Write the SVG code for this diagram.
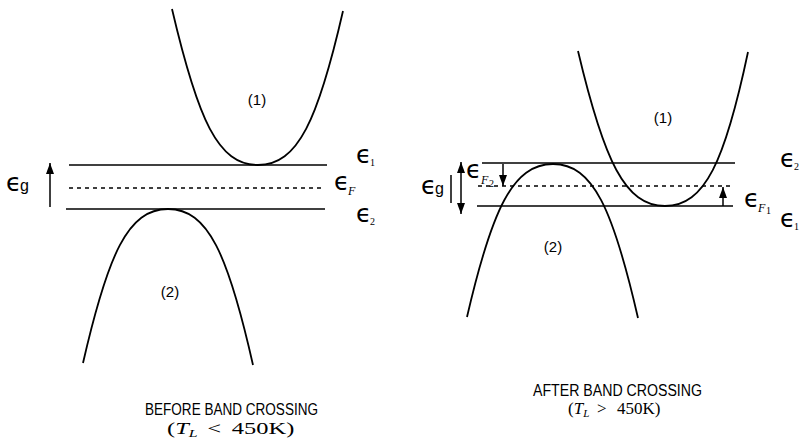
<svg xmlns="http://www.w3.org/2000/svg" width="803" height="441" viewBox="0 0 803 441">
<defs>
<marker id="ah" markerWidth="11" markerHeight="8" refX="11" refY="4" orient="auto-start-reverse" markerUnits="userSpaceOnUse"><path d="M0,0 L11,4 L0,8 z" fill="#000"/></marker>
<style>
.lvl{stroke:#000;stroke-width:1.6;fill:none}
.dash{stroke:#000;stroke-width:1.3;stroke-dasharray:4 4;fill:none}
.band{stroke:#000;stroke-width:1.8;fill:none}
.arr{stroke:#000;stroke-width:1.5;fill:none}
.eps{font-family:"DejaVu Sans",sans-serif;font-size:25px;fill:#000}
.sub{font-family:"Liberation Serif",serif;font-size:10px;fill:#000}
.subi{font-family:"Liberation Serif",serif;font-size:12px;font-style:italic;fill:#000}
.g{font-family:"Liberation Sans",sans-serif;font-size:16px;fill:#000}
.lab{font-family:"Liberation Sans",sans-serif;font-size:15px;fill:#000;text-anchor:middle}
.cap{font-family:"Liberation Sans",sans-serif;font-size:16px;fill:#000}
.math{font-family:"Liberation Serif",serif;font-size:17px;fill:#000}
</style>
</defs>
<rect width="803" height="441" fill="#fff"/>

<g id="left-panel">
  <g id="left-levels">
    <line class="lvl" x1="69" y1="165" x2="327" y2="165"/>
    <line class="dash" x1="69" y1="188" x2="323" y2="188"/>
    <line class="lvl" x1="66" y1="209" x2="325" y2="209"/>
  </g>
  <g id="left-band1">
    <path class="band" d="M172,9 C198,120 218,165 258,165 C298,165 318,120 343,11"/>
    <text class="lab" x="257" y="105">(1)</text>
  </g>
  <g id="left-band2">
    <path class="band" d="M83,363 C108,254 128,209 168,209 C208,209 228,254 253,365"/>
    <text class="lab" x="170" y="297">(2)</text>
  </g>
  <g id="left-labels">
    <text class="eps" x="6" y="191">ϵ</text><text class="g" x="20" y="191">g</text>
    <text class="eps" x="356" y="163">ϵ</text><text class="sub" x="370" y="166">1</text>
    <text class="eps" x="334" y="190">ϵ</text><text class="subi" x="348" y="195">F</text>
    <text class="eps" x="356" y="222">ϵ</text><text class="sub" x="370" y="225">2</text>
  </g>
  <g id="left-caption">
    <text class="cap" x="145" y="415" textLength="173" lengthAdjust="spacingAndGlyphs">BEFORE BAND CROSSING</text>
    <text class="math" transform="translate(167,434) scale(1.44,1)">(<tspan font-style="italic">T</tspan><tspan font-style="italic" font-size="11" dy="3">L</tspan><tspan x="28" dy="-3">&lt;</tspan><tspan x="45">450K)</tspan></text>
  </g>
</g>

<g id="right-panel">
  <g id="right-levels">
    <line class="lvl" x1="482" y1="163" x2="735" y2="163"/>
    <line class="dash" x1="478" y1="186" x2="732" y2="186"/>
    <line class="lvl" x1="477" y1="206" x2="733" y2="206"/>
  </g>
  <g id="right-band1">
    <path class="band" d="M578,51 C604,161 625,206 665,206 C705,206 725,161 748,52"/>
    <text class="lab" x="663" y="123">(1)</text>
  </g>
  <g id="right-band2">
    <path class="band" d="M467,317 C492,209 513,164 553,164 C593,164 613,209 638,318"/>
    <text class="lab" x="553" y="252">(2)</text>
  </g>
  <g id="right-labels">
    <text class="eps" x="421" y="194">ϵ</text><text class="g" x="435" y="194">g</text>
    <line class="arr" x1="451" y1="175" x2="451" y2="203"/>
    <text class="eps" x="466" y="178">ϵ</text><text class="subi" x="481" y="184">F</text><text class="sub" x="489" y="187" font-size="8">2</text>
    <text class="eps" x="744" y="207">ϵ</text><text class="subi" x="758" y="212">F</text><text class="sub" x="766" y="214" font-size="8">1</text>
    <text class="eps" x="780" y="167">ϵ</text><text class="sub" x="794" y="170">2</text>
    <text class="eps" x="780" y="227">ϵ</text><text class="sub" x="794" y="230">1</text>
  </g>
  <g id="right-caption">
    <text class="cap" x="533" y="396" textLength="169" lengthAdjust="spacingAndGlyphs">AFTER BAND CROSSING</text>
    <text class="math" x="568" y="414">(<tspan font-style="italic">T</tspan><tspan font-style="italic" font-size="11" dy="3">L</tspan><tspan x="597" dy="-3">&gt;</tspan><tspan x="617">450K)</tspan></text>
  </g>
</g>

<g id="connectors">
  <line class="arr" x1="50" y1="207" x2="50" y2="163" marker-end="url(#ah)"/>
  <line class="arr" x1="461" y1="162" x2="461" y2="214" marker-start="url(#ah)" marker-end="url(#ah)"/>
  <line class="arr" x1="503" y1="164" x2="503" y2="186" marker-end="url(#ah)"/>
  <line class="arr" x1="723" y1="206" x2="723" y2="187" marker-end="url(#ah)"/>
</g>
</svg>
